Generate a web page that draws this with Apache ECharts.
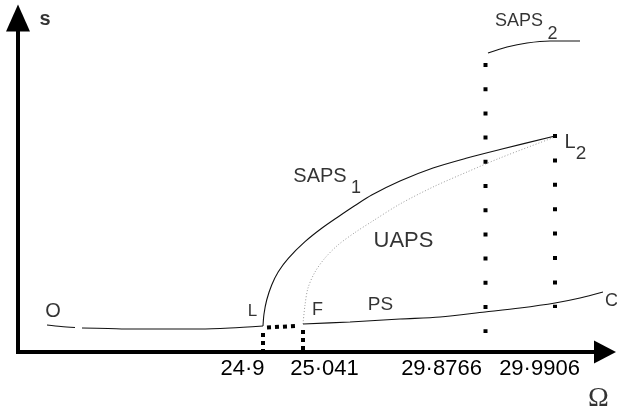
<!DOCTYPE html>
<html>
<head>
<meta charset="utf-8">
<script src="https://cdn.jsdelivr.net/npm/echarts@6/dist/echarts.min.js"></script>
<style>
  html, body { margin: 0; padding: 0; background: #fff; }
  #chart { width: 617px; height: 415px; }
</style>
</head>
<body>
<div id="chart"></div>
<script>
// Schematic response diagram: amplitude s against forcing frequency Ω.
// Coordinates are schematic units along each axis (not to scale in Ω).

// Lower branch O → L
const branchO_a = [[29, 27], [43, 25.5], [57, 24.5]];
const branchO_b = [[64, 24], [90, 23.5], [115, 23], [150, 23], [182, 23], [212, 24], [245, 26]];
// Stable branch SAPS1 from L up to L2
const saps1 = [[245, 26], [246, 38], [248.7, 52], [253.7, 67], [260.3, 80.3], [270.3, 93.7],
               [287, 110.3], [303.7, 123.7], [320.3, 135.3], [337, 146.5], [353.7, 157],
               [382, 171], [415, 184], [449, 194], [482, 202.5], [537, 216]];
// Unstable branch UAPS from F up to L2
const uaps = [[285, 28], [287, 47], [290, 64], [297, 80], [307, 94], [320, 107], [337, 119.5],
              [354, 130.5], [382, 148], [415, 165], [449, 180], [482, 194], [537, 215]];
// Branch PS from F to C
const ps = [[285, 28], [332, 30], [382, 33], [422, 35], [467, 40], [502, 44], [537, 49], [562, 54], [585, 60]];
// Upper stable branch SAPS2
const saps2 = [[470, 299], [489, 305], [509, 309], [532, 311], [562, 311]];

// Jump lines (heavy dotted)
const jumpLeft = [[467.5, 289], [467.5, 19]];
const jumpRight = [[537, 218], [537, 44]];
const dropL = [[245, 19], [245, 0]];
const dropF = [[285, 22], [285, 2]];
const linkLF = [[249, 24.5], [277, 26]];

// Ω values marked on the horizontal axis and where their labels sit
const omegaLabels = ['24·9', '25·041', '29·8766', '29·9906'];
const omegaLabelPos = [224.5, 306.5, 423.5, 521.5];

// Text annotations: [text, x, y, fontSize, extra]
const notes = [
  ['s', 27, 333, 20, { fontWeight: 'bold' }],
  ['O', 35, 41, 20],
  ['L', 234.5, 41, 17],
  ['F', 299.5, 42, 18],
  ['PS', 362.5, 47.5, 19],
  ['UAPS', 385.5, 111, 22],
  ['SAPS', 302, 175.5, 20],
  ['1', 338, 164, 18],
  ['SAPS', 501, 330.5, 18],
  ['2', 534.5, 318, 18],
  ['L', 552, 210, 20],
  ['2', 563, 198.5, 19],
  ['C', 587, 50.5, 18, { align: 'left' }],
  ['Ω', 580.5, -46.5, 28, { fontFamily: 'Liberation Serif' }]
];

const FONT = 'Liberation Sans';
const chart = echarts.init(document.getElementById('chart'), null, { renderer: 'canvas' });

function curve(data, style) {
  return {
    type: 'line',
    data: data,
    symbol: 'none',
    smooth: 0.3,
    silent: true,
    animation: false,
    lineStyle: Object.assign({ color: '#111', width: 1.1 }, style || {})
  };
}
function dotted(data, gap) {
  return {
    type: 'line',
    data: data,
    symbol: 'none',
    silent: true,
    animation: false,
    lineStyle: { color: '#000', width: 4, type: [4, gap], cap: 'butt' }
  };
}

const option = {
  backgroundColor: '#fff',
  animation: false,
  grid: { left: 18, right: 12, top: 18, bottom: 63 },
  xAxis: {
    type: 'value',
    min: 0,
    max: 587,
    splitLine: { show: false },
    axisTick: { show: false },
    axisLine: {
      show: true,
      symbol: ['none', 'triangle'],
      symbolSize: [23, 22],
      lineStyle: { color: '#000', width: 4, cap: 'square' }
    },
    axisLabel: {
      show: true,
      customValues: omegaLabelPos,
      formatter: function (v) {
        const i = omegaLabelPos.indexOf(v);
        return i >= 0 ? omegaLabels[i] : '';
      },
      color: '#000',
      fontFamily: FONT,
      fontSize: 22,
      margin: 6,
      showMinLabel: true,
      showMaxLabel: true
    }
  },
  yAxis: {
    type: 'value',
    min: 0,
    max: 334,
    splitLine: { show: false },
    axisTick: { show: false },
    axisLabel: { show: false },
    axisLine: {
      show: true,
      symbol: ['none', 'triangle'],
      symbolSize: [24, 27],
      lineStyle: { color: '#000', width: 4, cap: 'square' }
    }
  },
  series: [
    curve(branchO_a),
    curve(branchO_b),
    curve(saps1),
    curve(uaps, { color: '#9a9a9a', width: 1, type: [1, 2] }),
    curve(ps),
    curve(saps2),
    dotted(jumpLeft, 20.2),
    dotted(jumpRight, 20.4),
    dotted(dropL, 4),
    dotted(dropF, 4),
    dotted(linkLF, 4),
    {
      type: 'scatter',
      symbolSize: 0,
      clip: false,
      silent: true,
      animation: false,
      data: notes.map(function (n) {
        return {
          value: [n[1], n[2]],
          label: Object.assign({
            show: true,
            position: 'inside',
            formatter: n[0],
            fontSize: n[3],
            fontFamily: FONT,
            color: '#000',
            align: 'center',
            verticalAlign: 'middle'
          }, n[4] || {})
        };
      })
    }
  ]
};
chart.setOption(option);
</script>
</body>
</html>
